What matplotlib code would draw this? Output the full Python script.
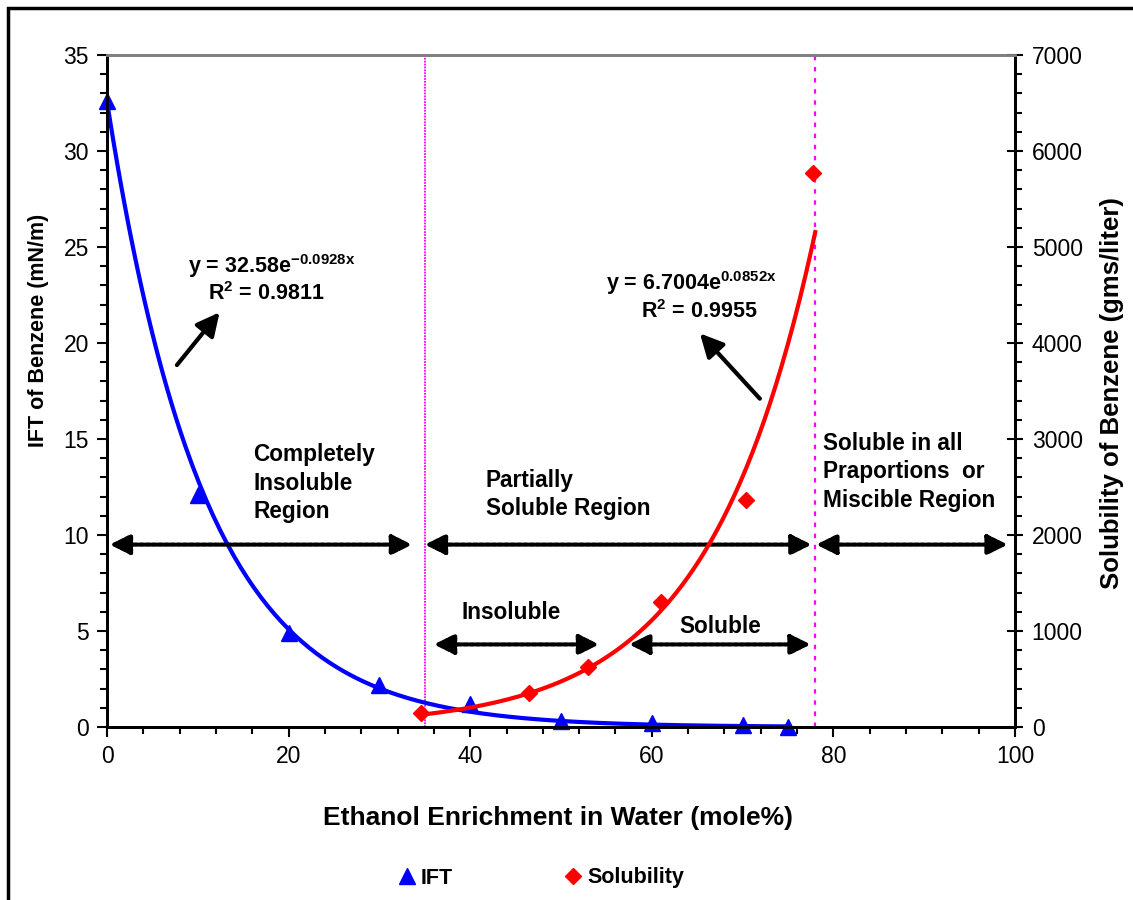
import numpy as np
import matplotlib
matplotlib.use("Agg")
import matplotlib.pyplot as plt
from matplotlib.lines import Line2D
from matplotlib.patches import Rectangle

plt.rcParams["font.family"] = ["Liberation Sans", "DejaVu Sans"]
plt.rcParams["mathtext.fontset"] = "custom"
plt.rcParams["mathtext.rm"] = "Liberation Sans"
plt.rcParams["mathtext.bf"] = "Liberation Sans:bold"

# measured data
ift_x = [0, 10, 20, 30, 40, 50, 60, 70, 75]
ift_y = [32.6, 12.1, 4.9, 2.2, 1.2, 0.33, 0.2, 0.1, 0.02]

sol_x = [34.6, 46.5, 53.0, 61.0, 70.4, 77.7]
sol_y = [148, 357, 628, 1305, 2365, 5770]

# exponential trendlines as printed on the chart
ift_a, ift_b = 32.58, -0.0928
sol_a, sol_b = 6.7004, 0.0852
ift_fit_range = (0, 75)
sol_fit_range = (35, 78)

region_lines = [35, 78]

fig = plt.figure(figsize=(11.33, 9), dpi=100)
ax = fig.add_axes([107 / 1133, 1 - 727 / 900, 908 / 1133, 672 / 900])
ax2 = ax.twinx()

# trendlines
xf = np.linspace(*ift_fit_range, 200)
ax.plot(xf, ift_a * np.exp(ift_b * xf), color="#0000ff", lw=3, zorder=3)
xs = np.linspace(*sol_fit_range, 200)
ax2.plot(xs, sol_a * np.exp(sol_b * xs), color="#ff0000", lw=3, zorder=3)

ax.plot(ift_x, ift_y, ls="none", marker="^", ms=12, color="#0000ff", zorder=4,
        clip_on=False)
ax2.plot(sol_x, sol_y, ls="none", marker="D", ms=8.5, color="#ff0000", zorder=4,
         clip_on=False)

ax.axvline(region_lines[0], color="#ff00ff", lw=1.3, ls=(0, (1, 0.6)), zorder=2)
ax.axvline(region_lines[1], color="#ff00ff", lw=1.6, ls=(0, (2, 3)), zorder=2)

ax.set_xlim(0, 100)
ax.set_ylim(0, 35)
ax2.set_ylim(0, 7000)
ax.set_xticks(range(0, 101, 20))
ax.set_xticks(range(0, 101, 4), minor=True)
ax.set_yticks(range(0, 36, 5))
ax.set_yticks(range(0, 36, 1), minor=True)
ax2.set_yticks(range(0, 7001, 1000))
ax2.set_yticks(range(0, 7001, 200), minor=True)

for a in (ax, ax2):
    a.tick_params(which="major", length=7, width=1.5, labelsize=16.5, pad=6)
    a.tick_params(which="minor", length=5, width=1.5)
    for s in a.spines.values():
        s.set_linewidth(2)
    a.spines["top"].set_color("#808080")
ax2.tick_params(axis="y", which="major", direction="inout", length=12)

ax.set_xlabel("Ethanol Enrichment in Water (mole%)", fontsize=19, fontweight="bold")
ax.xaxis.set_label_coords(0.497, -0.117)
ax.set_ylabel("IFT of Benzene (mN/m)", fontsize=15.5, fontweight="bold")
ax.yaxis.set_label_coords(-0.064, 0.59)
ax2.set_ylabel("Solubility of Benzene (gms/liter)", fontsize=18.5, fontweight="bold")
ax2.yaxis.set_label_coords(1.094, 0.497)

# region arrows
big = dict(arrowstyle="<|-|>,head_length=0.6,head_width=0.3", color="k", lw=3,
           ls=(0, (1, 0.5)), shrinkA=0, shrinkB=0, mutation_scale=20)
for x0, x1, y in [(0.3, 33.6, 9.5), (35.0, 77.6, 9.5), (78.1, 99.2, 9.5),
                  (36.0, 54.2, 4.3), (57.5, 77.5, 4.3)]:
    ax.annotate("", xy=(x1, y), xytext=(x0, y), arrowprops=big, zorder=5)

small = dict(arrowstyle="-|>,head_length=0.7,head_width=0.35", color="k", lw=3,
             shrinkA=0, shrinkB=0, mutation_scale=20)
ax.annotate("", xy=(12.4, 21.6), xytext=(7.7, 18.85), arrowprops=small)
ax.annotate("", xy=(65.3, 20.5), xytext=(71.9, 17.1), arrowprops=small)

tk = dict(fontsize=15.5, fontweight="bold", ha="center", va="center")
ax.text(18.1, 24.0, r"y = 32.58e$^{\mathbf{-0.0928x}}$", **tk)
ax.text(17.5, 22.55, r"R$^{\mathbf{2}}$ = 0.9811", **tk)
ax.text(64.4, 23.1, r"y = 6.7004e$^{\mathbf{0.0852x}}$", **tk)
ax.text(65.2, 21.65, r"R$^{\mathbf{2}}$ = 0.9955", **tk)

rk = dict(fontsize=16.3, fontweight="bold", ha="left", va="center", linespacing=1.3)
ax.text(16.1, 12.7, "Completely\nInsoluble\nRegion", **rk)
ax.text(41.7, 12.1, "Partially\nSoluble Region", **rk)
ax.text(78.9, 13.3, "Soluble in all\nPraportions  or\nMiscible Region", **rk)
ax.text(44.5, 5.94, "Insoluble", fontsize=16.3, fontweight="bold", ha="center", va="center")
ax.text(67.5, 5.26, "Soluble", fontsize=16.3, fontweight="bold", ha="center", va="center")

handles = [Line2D([], [], ls="none", marker="^", ms=11, color="#0000ff"),
           Line2D([], [], ls="none", marker="D", ms=8, color="#ff0000")]
fig.legend(handles, ["IFT", "Solubility"], loc="center", ncol=2,
           bbox_to_anchor=(0.4785, 1 - 878 / 900), frameon=False,
           prop=dict(size=15.5, weight="bold"), handlelength=0.6,
           handletextpad=0.35, columnspacing=5.3)

fig.patches.append(Rectangle((8 / 1133, -0.1), 1.2, 1 - 8 / 900 + 0.1,
                             transform=fig.transFigure, fill=False,
                             edgecolor="k", lw=2.5))

fig.savefig("out.png", dpi=100)
